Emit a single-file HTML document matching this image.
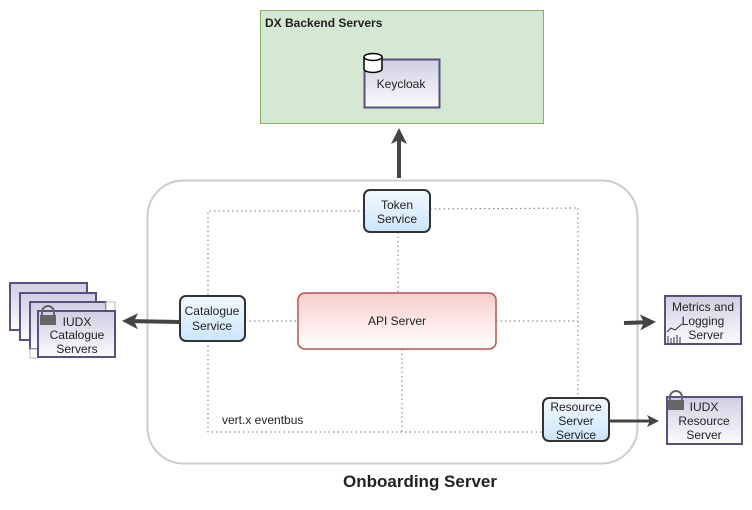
<!DOCTYPE html>
<html><head><meta charset="utf-8"><style>body{margin:0;background:#fff}svg{display:block}text{font-family:"Liberation Sans",sans-serif;font-size:12px;fill:#222}</style></head><body>
<svg width="752" height="510" viewBox="0 0 752 510" xmlns="http://www.w3.org/2000/svg">
<defs>
<linearGradient id="pu" x1="0" y1="0" x2="0" y2="1"><stop offset="0" stop-color="#d0cee2"/><stop offset="1" stop-color="#fbfbfe"/></linearGradient>
<linearGradient id="bl" x1="0" y1="0" x2="0" y2="1"><stop offset="0" stop-color="#f4f9ff"/><stop offset="1" stop-color="#cce5ff"/></linearGradient>
<linearGradient id="rd" x1="0" y1="0" x2="0" y2="1"><stop offset="0" stop-color="#f8cecc"/><stop offset="1" stop-color="#fff"/></linearGradient>
<marker id="ah" markerWidth="4" markerHeight="4" refX="3" refY="2" orient="auto" markerUnits="strokeWidth"><path d="M0,0 L4,2 L0,4 L1,2 z" fill="#444"/></marker>
</defs>
<rect x="260.5" y="10.5" width="283" height="113" fill="#d5e8d4" stroke="#82b366"/>
<text x="265" y="27" style="font-weight:bold;font-size:12px" fill="#000">DX Backend Servers</text>
<rect x="364.5" y="59.5" width="75" height="48" fill="url(#pu)" stroke="#56517e" stroke-width="2"/>
<path d="M364,57 v12 a9,3.5 0 0 0 18,0 v-12" fill="#fff" stroke="#000" stroke-width="1.5"/><ellipse cx="373" cy="57" rx="9" ry="3.5" fill="#fff" stroke="#000" stroke-width="1.5"/>
<text x="401" y="88" text-anchor="middle">Keycloak</text>
<line x1="399" y1="178" x2="399" y2="132" stroke="#444" stroke-width="4" marker-end="url(#ah)"/>
<rect x="147.5" y="180.5" width="490" height="283" rx="36" fill="#fff" stroke="#ccc" stroke-width="2"/>
<g stroke="#777" stroke-dasharray="1.5,3" fill="none">
<path d="M364,211 H208 V296 M208,341 V432 H543 M430,209 L578,208 V398 M245,321 H298 M496,321 H578 M398,232 V293 M402,349 V432"/>
</g>
<text x="222" y="424">vert.x eventbus</text>
<rect x="364" y="190" width="66" height="42" rx="6" fill="url(#bl)" stroke="#333" stroke-width="2"/>
<text x="397" y="209" text-anchor="middle">Token</text><text x="397" y="223" text-anchor="middle">Service</text>
<rect x="180" y="296" width="65" height="45" rx="6" fill="url(#bl)" stroke="#333" stroke-width="2"/>
<text x="212" y="315" text-anchor="middle">Catalogue</text><text x="212" y="330" text-anchor="middle">Service</text>
<rect x="298" y="293" width="198" height="56" rx="7" fill="url(#rd)" stroke="#b85450" stroke-width="1.5"/>
<text x="397" y="325" text-anchor="middle">API Server</text>
<rect x="543" y="398" width="66" height="43" rx="6" fill="url(#bl)" stroke="#333" stroke-width="2"/>
<text x="576" y="411" text-anchor="middle">Resource</text><text x="576" y="425" text-anchor="middle">Server</text><text x="576" y="439" text-anchor="middle">Service</text>
<line x1="180" y1="322" x2="126" y2="321" stroke="#444" stroke-width="4" marker-end="url(#ah)"/>
<line x1="624" y1="323" x2="652" y2="322" stroke="#444" stroke-width="4" marker-end="url(#ah)"/>
<line x1="609" y1="421" x2="656" y2="421" stroke="#444" stroke-width="3" marker-end="url(#ah)"/>
<g stroke="#56517e" stroke-width="2">
<rect x="10" y="283" width="77" height="47" fill="url(#pu)"/>
<rect x="20" y="293" width="76" height="47" fill="url(#pu)"/>
<rect x="30" y="302" width="76" height="47" fill="url(#pu)"/>
</g>
<rect x="106" y="302" width="9" height="9" fill="#fff" stroke="#bbb"/><rect x="30" y="349" width="9" height="9" fill="#fff" stroke="#bbb"/>
<rect x="38" y="311" width="77" height="46" fill="url(#pu)" stroke="#56517e" stroke-width="2"/>
<path d="M42,316 v-4 a6,6 0 0 1 12,0 v4" fill="none" stroke="#666" stroke-width="2"/><rect x="40" y="315" width="16" height="10" fill="#666"/>
<text x="77" y="326" text-anchor="middle">IUDX</text><text x="77" y="339" text-anchor="middle">Catalogue</text><text x="77" y="353" text-anchor="middle">Servers</text>
<rect x="665" y="296" width="76" height="48" fill="url(#pu)" stroke="#56517e" stroke-width="2"/>
<text x="703" y="311" text-anchor="middle">Metrics and</text><text x="703" y="325" text-anchor="middle">Logging</text><text x="706" y="339" text-anchor="middle">Server</text>
<path d="M667,332 l4,-4 l4,2 l7,-6 M668,343 v-7 M671,343 v-5 M674,343 v-6 M677,343 v-8 M680,343 v-6" stroke="#333" fill="none" stroke-width="1"/>
<rect x="667" y="397" width="75" height="47" fill="url(#pu)" stroke="#56517e" stroke-width="2"/>
<path d="M670,400 v-3 a6,6 0 0 1 12,0 v3" fill="none" stroke="#666" stroke-width="2"/><rect x="668" y="400" width="16" height="10" fill="#666"/>
<text x="704" y="411" text-anchor="middle">IUDX</text><text x="704" y="425" text-anchor="middle">Resource</text><text x="704" y="439" text-anchor="middle">Server</text>
<text x="420" y="487" text-anchor="middle" style="font-weight:bold;font-size:17px" fill="#000">Onboarding Server</text>
</svg>
</body></html>
